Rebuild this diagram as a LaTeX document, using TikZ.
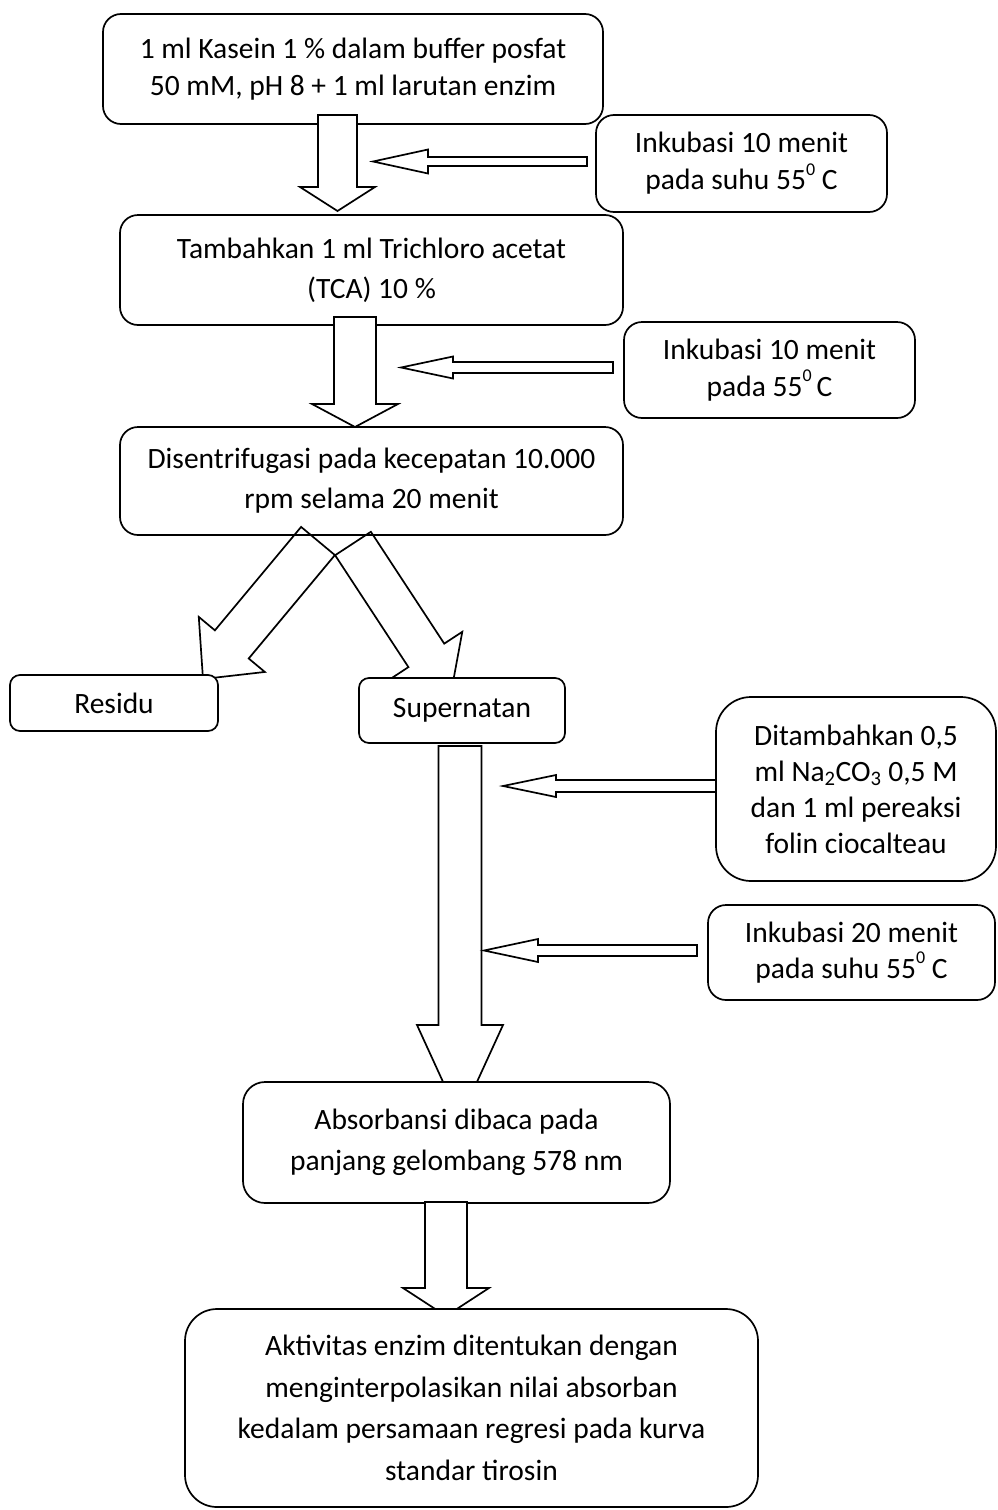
\documentclass[tikz,border=0pt]{standalone}
\usepackage{fontspec}
\setmainfont{Carlito}
\usetikzlibrary{calc}

\tikzset{
  box/.style={draw, line width=1.7pt, fill=white, align=center, inner sep=0pt,
              rounded corners=18pt, font=\fontsize{29.5}{37}\selectfont},
  wide/.style={font=\fontsize{29.5}{40}\selectfont},
  wider/.style={font=\fontsize{29.5}{41.5}\selectfont},
  tight/.style={font=\fontsize{29.5}{36}\selectfont},
  blk/.style={draw, line width=1.7pt, fill=white, line join=miter},
  hollow/.style={draw, line width=1.7pt, line join=miter},
}

% small raised zero used for the degree mark
\newcommand\degzero{\raisebox{1.05ex}{\fontsize{18}{18}\selectfont 0}}

% block arrow: [style] {tail centre} {tip} {half shaft width} {half head width} {head length}
\newcommand\blockarrow[6][blk]{%
  \coordinate (ba-h) at ($(#3)!#6!(#2)$);
  \path[#1] ($(#2)!#4!90:(#3)$) -- ($(ba-h)!#4!90:(#3)$) -- ($(ba-h)!#5!90:(#3)$)
    -- (#3) -- ($(ba-h)!#5!-90:(#3)$) -- ($(ba-h)!#4!-90:(#3)$)
    -- ($(#2)!#4!-90:(#3)$) -- cycle;
}

\begin{document}
\begin{tikzpicture}[x=1pt, y=-1pt]
\useasboundingbox (0,0) rectangle (997,1510);

% main column, first step
\node[box, minimum width=500pt, minimum height=110pt] (b1) at (353,69)
  {1 ml Kasein 1 \% dalam buffer posfat\\50 mM, pH 8 + 1 ml larutan enzim};
\coordinate (a1t) at (337.5,115);
\coordinate (a1h) at (337.5,211);
\blockarrow{a1t}{a1h}{19.5pt}{37.5pt}{24pt}

\node[box, minimum width=291pt, minimum height=97pt] (i1) at (741.5,163.5)
  {Inkubasi 10 menit\\pada suhu 55\degzero\ C};
\coordinate (l1t) at (587,161.5);
\coordinate (l1h) at (373,161.5);
\blockarrow{l1t}{l1h}{4.5pt}{12pt}{55pt}

% second step
\node[box, wide, minimum width=503pt, minimum height=110pt] (b2) at (371.5,270)
  {Tambahkan 1 ml Trichloro acetat\\(TCA) 10 \%};
\coordinate (a2t) at (355,317);
\coordinate (a2h) at (355,427);
\blockarrow{a2t}{a2h}{21pt}{43pt}{23pt}

\node[box, minimum width=291pt, minimum height=96pt] (i2) at (769.5,370)
  {Inkubasi 10 menit\\pada 55\degzero\,C};
\coordinate (l2t) at (613,367.5);
\coordinate (l2h) at (401,367.5);
\blockarrow{l2t}{l2h}{5.5pt}{11pt}{52pt}

% centrifugation and the split
\node[box, wide, minimum width=503pt, minimum height=108pt] (b3) at (371.5,481)
  {Disentrifugasi pada kecepatan 10.000\\rpm selama 20 menit};

\coordinate (sLt) at (318,541);
\coordinate (sLh) at (203,679);
\blockarrow[hollow]{sLt}{sLh}{22pt}{43pt}{45pt}
\coordinate (sRt) at (353,543.5);
\coordinate (sRh) at (451,693);
\blockarrow[hollow]{sRt}{sRh}{21.4pt}{43pt}{45pt}

\node[box, rounded corners=10pt, minimum width=208pt, minimum height=56pt] (res) at (114,703)
  {Residu};
\node[box, rounded corners=10pt, minimum width=206pt, minimum height=65pt] (sup) at (462,710.5)
  {Supernatan};

% long arrow down from the supernatant
\coordinate (a3t) at (460,746);
\coordinate (a3h) at (460,1119);
\blockarrow{a3t}{a3h}{21.5pt}{43pt}{94pt}

\node[box, tight, rounded corners=35pt, minimum width=280pt, minimum height=184pt] (dit) at (856,789)
  {Ditambahkan 0,5\\ml Na\textsubscript{2}CO\textsubscript{3} 0,5 M\\dan 1 ml pereaksi\\folin ciocalteau};
\coordinate (l3t) at (716,786);
\coordinate (l3h) at (503,786);
\blockarrow{l3t}{l3h}{6pt}{11pt}{53pt}

\node[box, tight, minimum width=287pt, minimum height=95pt] (i3) at (851.5,952.5)
  {Inkubasi 20 menit\\pada suhu 55\degzero\ C};
\coordinate (l4t) at (697,950.5);
\coordinate (l4h) at (484,950.5);
\blockarrow{l4t}{l4h}{5.5pt}{11.5pt}{54pt}

% reading the absorbance
\node[box, wider, rounded corners=22pt, minimum width=427pt, minimum height=121pt] (abs) at (456.5,1142.5)
  {Absorbansi dibaca pada\\panjang gelombang 578 nm};
\coordinate (a4t) at (446,1202);
\coordinate (a4h) at (446,1316);
\blockarrow{a4t}{a4h}{21pt}{43pt}{28pt}

\node[box, wider, rounded corners=32pt, minimum width=573pt, minimum height=198pt] (fin) at (471.5,1408)
  {Aktivitas enzim ditentukan dengan\\menginterpolasikan nilai absorban\\kedalam persamaan regresi pada kurva\\standar tirosin};
\end{tikzpicture}
\end{document}
